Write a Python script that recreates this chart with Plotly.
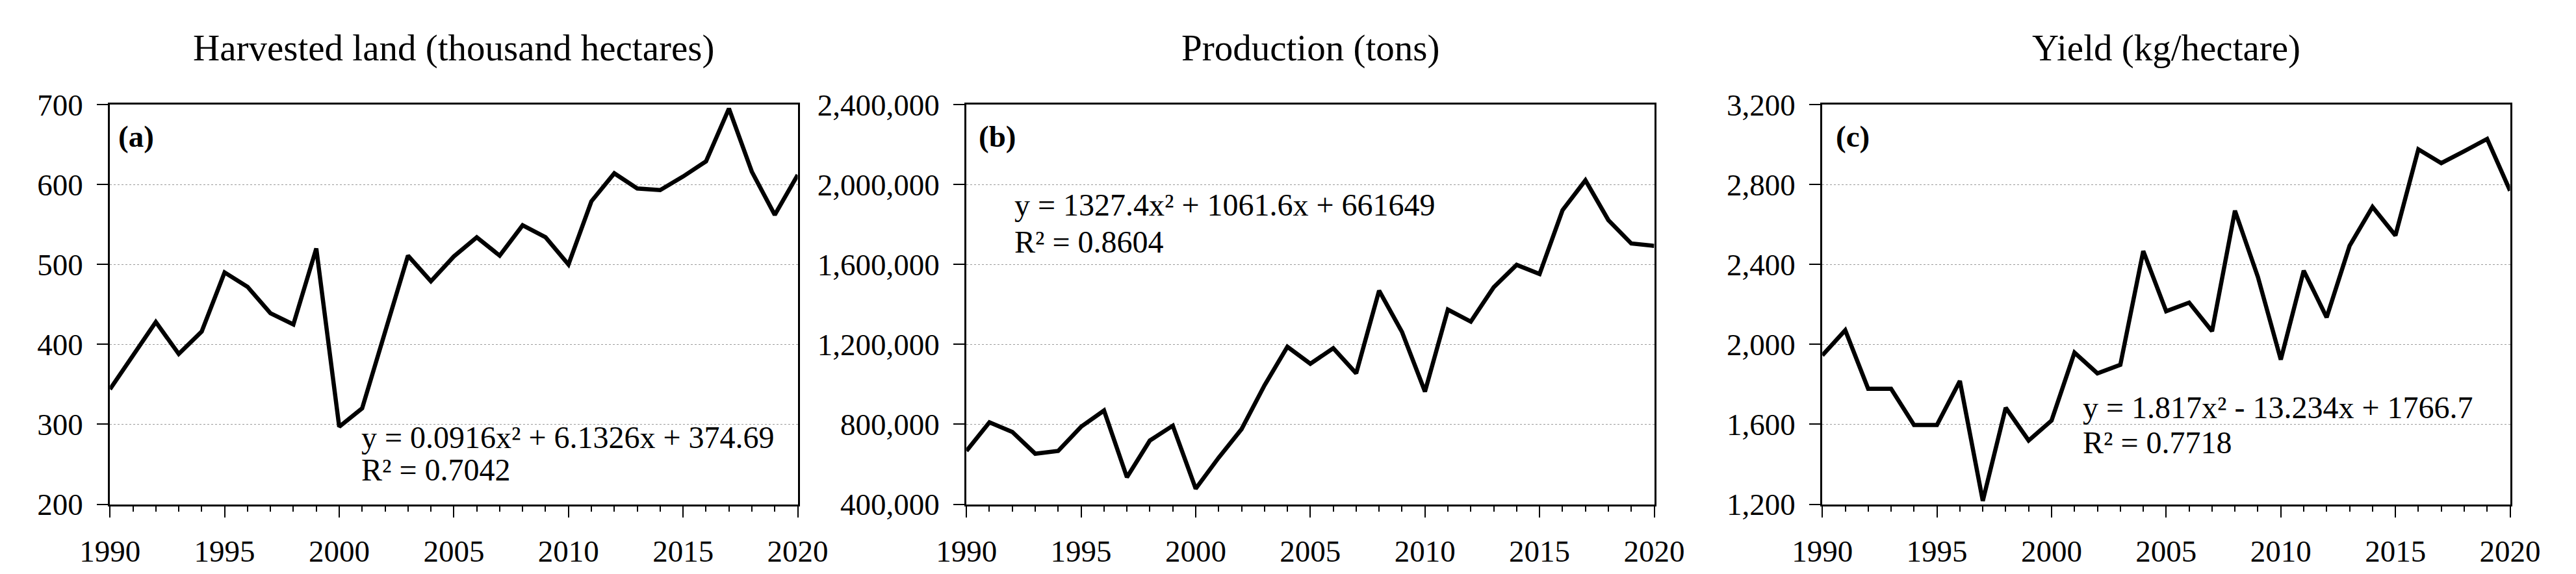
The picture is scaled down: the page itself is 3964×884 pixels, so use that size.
import plotly.graph_objects as go

years = list(range(1990, 2021))

harvested = [344, 386, 428, 388, 416, 490, 472, 439, 425, 520,
             297, 320, 415, 511, 479, 510, 534, 511, 549, 534,
             500, 579, 614, 595, 593, 610, 629, 695, 616, 562, 612]

production = [667000, 810000, 762000, 653000, 667000, 788000, 869000, 535000, 719000, 793000,
              478000, 633000, 776000, 995000, 1188000, 1103000, 1181000, 1055000, 1469000, 1262000,
              964000, 1374000, 1314000, 1486000, 1598000, 1552000, 1871000, 2021000, 1822000, 1705000, 1693000]

yield_kg = [1945, 2071, 1778, 1778, 1597, 1597, 1817, 1217, 1683, 1519,
            1619, 1959, 1855, 1898, 2467, 2166, 2209, 2066, 2669, 2338,
            1924, 2369, 2135, 2493, 2688, 2545, 2976, 2907, 2967, 3028, 2769]

titles = ["Harvested land (thousand hectares)", "Production (tons)", "Yield (kg/hectare)"]
panel_labels = ["(a)", "(b)", "(c)"]
equations = ["y = 0.0916x² + 6.1326x + 374.69",
             "y = 1327.4x² + 1061.6x + 661649",
             "y = 1.817x² - 13.234x + 1766.7"]
r2_labels = ["R² = 0.7042", "R² = 0.8604", "R² = 0.7718"]
y_ranges = [(200, 700, 100), (400000, 2400000, 400000), (1200, 3200, 400)]
y_formats = ["d", ",d", ",d"]

W, H = 3964, 884
x_domains = [(117 / W, 1201 / W), (1467 / W, 2551 / W), (2816 / W, 3900 / W)]
y_domain = (1 - 789 / H, 1 - 135 / H)
eq_pos = [(0.3635, 0.168, 0.086), (0.068, 0.749, 0.657), (0.377, 0.2416, 0.154)]
lab_pos = [0.010, 0.016, 0.018]

FONT = "Liberation Serif, Times New Roman, serif"
series = [harvested, production, yield_kg]

fig = go.Figure()
annotations = []
for i in range(3):
    xa = "x" if i == 0 else f"x{i+1}"
    ya = "y" if i == 0 else f"y{i+1}"
    fig.add_trace(go.Scatter(x=years, y=series[i], mode="lines",
                             line=dict(color="black", width=6.5),
                             xaxis=xa, yaxis=ya, showlegend=False))
    lo, hi, dt = y_ranges[i]
    xkey = "xaxis" if i == 0 else f"xaxis{i+1}"
    ykey = "yaxis" if i == 0 else f"yaxis{i+1}"
    fig.update_layout(**{
        xkey: dict(domain=list(x_domains[i]), range=[1990, 2020], anchor=ya,
                   dtick=5, tick0=1990, ticks="outside", ticklen=17, tickwidth=2,
                   tickcolor="black", showline=True, linecolor="black", linewidth=3,
                   mirror=True, showgrid=False, zeroline=False,
                   minor=dict(dtick=1, tick0=1990, ticks="outside", ticklen=8,
                              tickwidth=2, tickcolor="black", showgrid=False),
                   tickfont=dict(family=FONT, size=47, color="black"),
                   ticklabelstandoff=12),
        ykey: dict(domain=list(y_domain), range=[lo, hi], anchor=xa,
                   dtick=dt, tick0=lo, ticks="outside", ticklen=17, tickwidth=2,
                   tickcolor="black", showline=True, linecolor="black", linewidth=3,
                   mirror=True, showgrid=True, gridcolor="#9a9a9a", gridwidth=1,
                   griddash="dot", zeroline=False, tickformat=y_formats[i],
                   tickfont=dict(family=FONT, size=47, color="black"),
                   ticklabelstandoff=12),
    })
    xd = x_domains[i]
    annotations.append(dict(text=titles[i], x=(xd[0] + xd[1]) / 2, y=1 - 42 / H,
                            xref="paper", yref="paper", showarrow=False,
                            xanchor="center", yanchor="middle",
                            font=dict(family=FONT, size=57, color="black")))
    annotations.append(dict(text="<b>" + panel_labels[i] + "</b>", x=lab_pos[i], y=0.92,
                            xref=f"{xa} domain", yref=f"{ya} domain", showarrow=False,
                            xanchor="left", yanchor="middle",
                            font=dict(family=FONT, size=47, color="black")))
    ex, ey1, ey2 = eq_pos[i]
    annotations.append(dict(text=equations[i], x=ex, y=ey1,
                            xref=f"{xa} domain", yref=f"{ya} domain", showarrow=False,
                            xanchor="left", yanchor="middle",
                            font=dict(family=FONT, size=48, color="black")))
    annotations.append(dict(text=r2_labels[i], x=ex, y=ey2,
                            xref=f"{xa} domain", yref=f"{ya} domain", showarrow=False,
                            xanchor="left", yanchor="middle",
                            font=dict(family=FONT, size=48, color="black")))

fig.update_layout(width=W, height=H, margin=dict(l=0, r=0, t=0, b=0),
                  paper_bgcolor="white", plot_bgcolor="white",
                  annotations=annotations)

fig.write_html("out.html")
